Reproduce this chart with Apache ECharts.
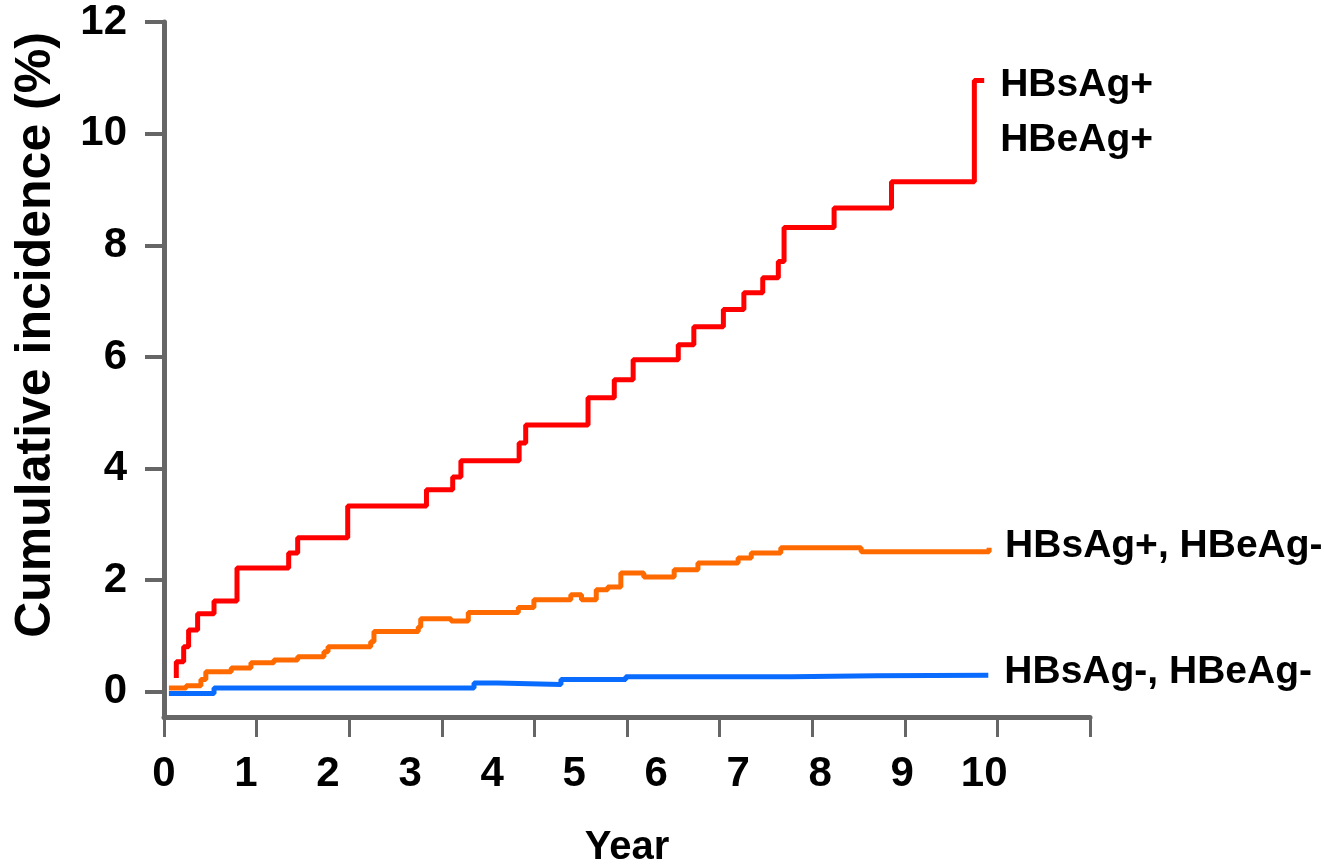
<!DOCTYPE html>
<html>
<head>
<meta charset="utf-8">
<script src="https://cdn.jsdelivr.net/npm/echarts@6/dist/echarts.min.js"></script>
<style>
html,body{margin:0;padding:0;background:#fff;}
#chart{width:1324px;height:866px;}
</style>
</head>
<body>
<div id="chart"></div>
<script>
// ---- data ----
var xTickLabels = [0,1,2,3,4,5,6,7,8,9,10];
var yTickValues = [0,2,4,6,8,10,12];

var redName = 'HBsAg+\nHBeAg+';
var redYears  = [0.15,0.15,0.24,0.30,0.41,0.61,0.89,1.52,1.63,2.24,3.20,3.52,3.62,4.33,4.41,5.17,5.49,5.72,6.27,6.46,6.82,7.07,7.30,7.49,7.56,8.17,8.87,9.88,10.0];
var redValues = [0.25,0.54,0.81,1.11,1.40,1.63,2.22,2.49,2.76,3.33,3.62,3.85,4.14,4.46,4.78,5.27,5.59,5.95,6.22,6.54,6.85,7.15,7.42,7.71,8.32,8.67,9.14,10.95,10.95];

var orangeName = 'HBsAg+, HBeAg-';
var orangeYears  = [0.06,0.27,0.45,0.51,0.82,1.06,1.34,1.63,1.95,2.00,2.52,2.56,3.10,3.13,3.50,3.71,4.32,4.51,4.96,5.09,5.27,5.41,5.57,5.85,6.22,6.51,7.00,7.16,7.52,8.50,10.0,10.06];
var orangeValues = [0.07,0.11,0.22,0.36,0.43,0.52,0.57,0.63,0.72,0.81,0.90,1.08,1.16,1.31,1.27,1.42,1.51,1.65,1.74,1.65,1.83,1.88,2.13,2.06,2.19,2.31,2.40,2.49,2.58,2.51,2.51,2.58];

var blueName = 'HBsAg-, HBeAg-';
var blueYears  = [0.06,0.61,3.78,4.07,4.84,5.63,7.65,8.68,10.05];
var blueValues = [-0.03,0.07,0.16,0.13,0.22,0.27,0.29,0.30,0.30];

// ---- helpers ----
function zip(a,b){ return a.map(function(v,i){ return [v,b[i]]; }); }
function hasFont(name){
  var c=document.createElement('canvas').getContext('2d');
  var s='HBsAg+, HBeAg- 0123456789';
  c.font='bold 40px monospace'; var w1=c.measureText(s).width;
  c.font='bold 40px "'+name+'", monospace'; var w2=c.measureText(s).width;
  return Math.abs(w1-w2)>0.5;
}
var narrow = hasFont('Liberation Sans Narrow');
var labFont = narrow ? '"Liberation Sans Narrow", "Arial Narrow", sans-serif' : '"Liberation Sans", Arial, sans-serif';
var tickSize = narrow ? 44 : 42;
var serSize = narrow ? 46 : 39;
var nameSize = narrow ? 46 : 40;

var axisGray = '#666666';

var chart = echarts.init(document.getElementById('chart'), null, {renderer:'canvas'});

function endLab(offsetY){
  return {show:true, formatter:'{a}', color:'#000', fontFamily:labFont, fontWeight:'bold',
          fontSize:serSize, lineHeight:55, distance:16, offset:[0,offsetY], align:'left'};
}

var option = {
  animation:false,
  backgroundColor:'#ffffff',
  grid:{left:164, top:22, right:234, bottom:149, containLabel:false, outerBoundsMode:'none'},
  xAxis:[
    {type:'value', min:0, max:11.29, position:'bottom',
     axisLine:{show:false}, axisTick:{show:false}, splitLine:{show:false},
     axisLabel:{customValues:xTickLabels, margin:36, color:'#000', fontFamily:labFont, fontWeight:'bold', fontSize:tickSize},
     name:'Year', nameLocation:'middle', nameGap:111,
     nameTextStyle:{color:'#000', fontFamily:labFont, fontWeight:'bold', fontSize:nameSize}},
    {type:'value', min:0, max:10, interval:1, position:'bottom',
     axisLine:{show:true, lineStyle:{color:axisGray, width:5}},
     axisTick:{show:true, length:20, lineStyle:{color:axisGray, width:3}},
     axisLabel:{show:false}, splitLine:{show:false}}
  ],
  yAxis:{type:'value', min:-0.45, max:12,
     axisLine:{show:true, lineStyle:{color:axisGray, width:5}},
     axisTick:{show:true, customValues:yTickValues, length:19, lineStyle:{color:axisGray, width:4}},
     axisLabel:{customValues:yTickValues, margin:37, color:'#000', fontFamily:labFont, fontWeight:'bold', fontSize:tickSize},
     splitLine:{show:false}},
  graphic:[
    {type:'text', x:36, y:335, rotation:Math.PI/2,
     style:{text:'Cumulative incidence (%)', fill:'#000', font:'bold 50px "Liberation Sans", Arial, sans-serif',
            align:'center', verticalAlign:'middle'}}
  ],
  series:[
    {name:redName, type:'line', step:'end', xAxisIndex:0, symbol:'none', data:zip(redYears,redValues),
     lineStyle:{color:'#ff0000', width:5}, itemStyle:{color:'#ff0000'}, endLabel:endLab(32)},
    {name:orangeName, type:'line', step:'end', xAxisIndex:0, symbol:'none', data:zip(orangeYears,orangeValues),
     lineStyle:{color:'#ff6a00', width:5}, itemStyle:{color:'#ff6a00'}, endLabel:endLab(-2)},
    {name:blueName, type:'line', step:'end', xAxisIndex:0, symbol:'none', data:zip(blueYears,blueValues),
     lineStyle:{color:'#0a6cff', width:5}, itemStyle:{color:'#0a6cff'}, endLabel:endLab(-3)}
  ]
};
chart.setOption(option);
</script>
</body>
</html>
